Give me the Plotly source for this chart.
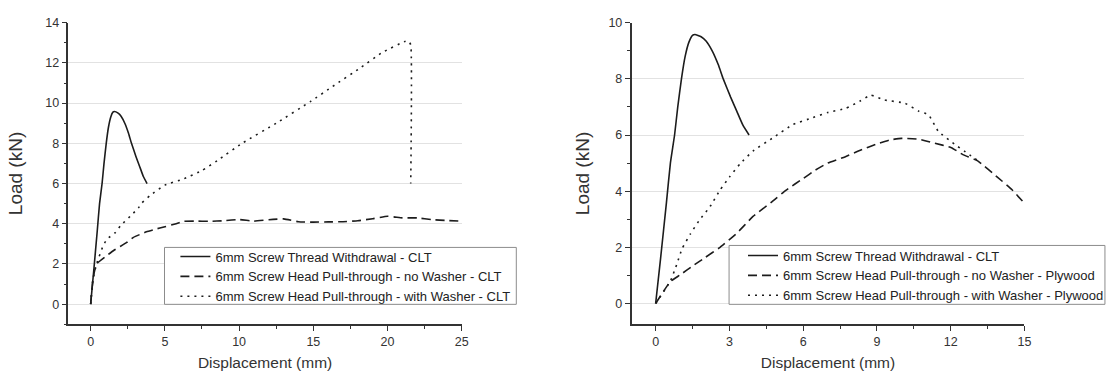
import plotly.graph_objects as go

# ---- CLT panel (left) ----
thread_clt_x = [0, 0.2, 0.44, 0.6, 0.77, 0.9, 1.05, 1.2, 1.35, 1.5, 1.6, 1.85, 2.05, 2.3, 2.55, 2.75, 3.05, 3.3, 3.55, 3.8]
thread_clt_y = [0, 1.6, 3.6, 5.0, 6.0, 7.0, 8.0, 8.8, 9.3, 9.55, 9.58, 9.5, 9.35, 9.0, 8.5, 8.0, 7.35, 6.85, 6.35, 6.0]

nowasher_clt_x = [0, 0.17, 0.4, 1.1, 1.55, 2.43, 2.88, 3.76, 4.32, 5.0, 5.76, 6.3, 7.0, 8.0, 9.0, 10.0, 11.0,
                  12.0, 13.0, 14.0, 15.0, 16.0, 17.0, 18.0, 19.0, 20.0, 21.0, 22.0, 23.0, 24.0, 25.0]
nowasher_clt_y = [0, 1.3, 2.0, 2.42, 2.67, 3.07, 3.32, 3.6, 3.72, 3.85, 4.0, 4.12, 4.13, 4.12, 4.15, 4.21, 4.13,
                  4.2, 4.24, 4.1, 4.08, 4.09, 4.1, 4.15, 4.25, 4.37, 4.29, 4.29, 4.2, 4.16, 4.13]

washer_clt_x = [0, 0.15, 0.4, 0.84, 1.1, 1.66, 2.0, 2.77, 3.21, 3.43, 4.0, 5.0, 6.3, 7.5, 8.53, 10.2, 12.5,
                14.85, 16.3, 18.2, 19.6, 21.16, 21.4, 21.56, 21.56]
washer_clt_y = [0, 1.2, 2.0, 2.9, 3.23, 3.56, 3.89, 4.45, 4.78, 5.02, 5.4, 5.92, 6.24, 6.65, 7.14, 8.0, 9.0,
                10.1, 10.83, 11.77, 12.5, 13.07, 13.1, 12.9, 6.0]

# ---- Plywood panel (right) ----
thread_ply_x = thread_clt_x
thread_ply_y = thread_clt_y

nowasher_ply_x = [0, 0.6, 1.0, 1.5, 2.0, 2.62, 3.3, 3.96, 4.7, 5.31, 6.0, 6.5, 7.0, 7.7, 8.3, 9.0, 9.5, 10.0,
                  10.7, 11.3, 12.03, 12.5, 13.1, 13.9, 14.5, 15.0]
nowasher_ply_y = [0, 0.78, 1.02, 1.33, 1.63, 2.0, 2.5, 3.1, 3.6, 4.04, 4.45, 4.75, 5.0, 5.22, 5.45, 5.68, 5.82,
                  5.88, 5.85, 5.72, 5.55, 5.3, 5.08, 4.5, 4.05, 3.57]

washer_ply_x = [0, 0.6, 0.87, 1.07, 1.41, 1.75, 2.22, 2.62, 3.0, 3.43, 3.96, 4.77, 5.58, 6.4, 7.0, 7.73, 8.3,
                8.75, 9.3, 10.15, 10.7, 11.1, 11.5, 12.16, 12.6, 13.1]
washer_ply_y = [0, 0.8, 1.42, 1.94, 2.47, 2.93, 3.46, 4.04, 4.5, 4.97, 5.43, 5.9, 6.37, 6.62, 6.8, 6.95, 7.2,
                7.42, 7.25, 7.13, 6.85, 6.72, 6.13, 5.67, 5.4, 5.09]

names_clt = ["6mm Screw Thread Withdrawal - CLT",
             "6mm Screw Head Pull-through - no Washer - CLT",
             "6mm Screw Head Pull-through - with Washer - CLT"]
names_ply = ["6mm Screw Thread Withdrawal - CLT",
             "6mm Screw Head Pull-through - no Washer - Plywood",
             "6mm Screw Head Pull-through - with Washer - Plywood"]

LINE_COLOR = "#1c1c1c"
DASHES = ["solid", "9px,5px", "2px,5px"]
FONT = "Arial, 'Liberation Sans', sans-serif"
W, H = 1109, 374


def px_x(v):
    return v / W


def px_y(v):
    return (H - v) / H


fig = go.Figure()

clt_series = [(thread_clt_x, thread_clt_y), (nowasher_clt_x, nowasher_clt_y), (washer_clt_x, washer_clt_y)]
ply_series = [(thread_ply_x, thread_ply_y), (nowasher_ply_x, nowasher_ply_y), (washer_ply_x, washer_ply_y)]

for (xs, ys), name, dash in zip(clt_series, names_clt, DASHES):
    fig.add_trace(go.Scatter(x=xs, y=ys, mode="lines", name=name, xaxis="x", yaxis="y",
                             line=dict(color=LINE_COLOR, width=1.6, dash=dash, shape="spline", smoothing=0.4),
                             legend="legend"))

for (xs, ys), name, dash in zip(ply_series, names_ply, DASHES):
    fig.add_trace(go.Scatter(x=xs, y=ys, mode="lines", name=name, xaxis="x2", yaxis="y2",
                             line=dict(color=LINE_COLOR, width=1.6, dash=dash, shape="spline", smoothing=0.4),
                             legend="legend2"))

axis_common = dict(
    showline=True, linecolor="#333333", linewidth=1.5,
    ticks="outside", ticklen=5, tickwidth=1.2, tickcolor="#333333",
    tickfont=dict(family=FONT, size=12.5, color="#333333"),
    zeroline=False,
)
xtitle_font = dict(family=FONT, size=15.5, color="#333333")
ytitle_font = dict(family=FONT, size=19, color="#333333")

y_dom = [px_y(323.3), px_y(16)]

legend_common = dict(xanchor="left", yanchor="top", bgcolor="rgba(0,0,0,0)", borderwidth=0,
                     font=dict(family=FONT, size=13, color="#222222"), tracegroupgap=0, itemwidth=30)

# framed white boxes behind the two legends
legend_boxes = [
    dict(type="rect", xref="paper", yref="paper", x0=px_x(166), x1=px_x(521), y0=px_y(303), y1=px_y(245),
         fillcolor="white", line=dict(color="#8c8c8c", width=1), layer="above"),
    dict(type="rect", xref="paper", yref="paper", x0=px_x(735.7), x1=px_x(1115), y0=px_y(303), y1=px_y(243),
         fillcolor="white", line=dict(color="#8c8c8c", width=1), layer="above"),
]

fig.update_layout(
    width=W, height=H,
    margin=dict(l=0, r=0, t=0, b=0),
    paper_bgcolor="white", plot_bgcolor="white",
    font=dict(family=FONT, color="#333333"),
    showlegend=True,
    shapes=legend_boxes,
    xaxis=dict(axis_common, domain=[px_x(69), px_x(466)], range=[-1.5, 25], dtick=5, tick0=0,
               showgrid=False, anchor="y",
               minor=dict(dtick=2.5, ticklen=3, tickcolor="#333333", showgrid=False),
               title=dict(text="Displacement (mm)", font=xtitle_font, standoff=9)),
    yaxis=dict(axis_common, domain=y_dom, range=[-1, 14], dtick=2, tick0=0,
               showgrid=True, gridcolor="#e2e2e2", gridwidth=1, anchor="x",
               minor=dict(dtick=1, ticklen=3, tickcolor="#333333", showgrid=False),
               title=dict(text="Load (kN)", font=ytitle_font, standoff=18)),
    xaxis2=dict(axis_common, domain=[px_x(637.3), px_x(1033.7)], range=[-0.98, 15], dtick=3, tick0=0,
                showgrid=False, anchor="y2",
                minor=dict(dtick=1.5, ticklen=3, tickcolor="#333333", showgrid=False),
                title=dict(text="Displacement (mm)", font=xtitle_font, standoff=9)),
    yaxis2=dict(axis_common, domain=y_dom, range=[-0.74, 10], dtick=2, tick0=0,
                showgrid=True, gridcolor="#e2e2e2", gridwidth=1, anchor="x2",
                minor=dict(dtick=1, ticklen=3, tickcolor="#333333", showgrid=False),
                title=dict(text="Load (kN)", font=ytitle_font, standoff=14)),
    legend=dict(legend_common, x=px_x(177), y=px_y(239)),
    legend2=dict(legend_common, x=px_x(750), y=px_y(238)),
)

fig.write_html("out.html")
